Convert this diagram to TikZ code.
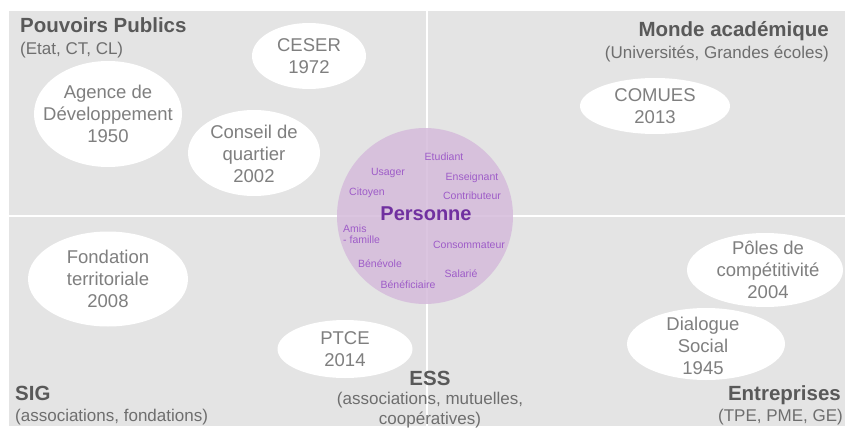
\documentclass[tikz,border=0pt]{standalone}
\usepackage{fontspec}
\setmainfont{Liberation Sans}
\usetikzlibrary{shapes.geometric}
\definecolor{bg}{HTML}{E4E4E4}
\definecolor{titlec}{HTML}{595959}
\definecolor{subc}{HTML}{6E6E6E}
\definecolor{bubc}{HTML}{7F7F7F}
\definecolor{circc}{HTML}{D5BCDB}
\definecolor{persc}{HTML}{7030A0}
\definecolor{wordc}{HTML}{9E5CC8}
\tikzset{
  blob/.style={ellipse, fill=white, inner sep=0pt},
  bubtxt/.style={inner sep=0pt, align=center, text=bubc,
    font=\fontsize{18.5}{22}\selectfont},
  ttl/.style={inner sep=0pt, text=titlec, font=\fontsize{20.5}{24}\selectfont\bfseries},
  sub/.style={inner sep=0pt, text=subc, align=center, font=\fontsize{17}{20}\selectfont},
  word/.style={inner sep=0pt, text=wordc, font=\fontsize{10.5}{10.5}\selectfont},
  divider/.style={white, line width=1.5pt}
}
\begin{document}
\begin{tikzpicture}[x=1pt,y=-1pt]
\useasboundingbox (0,0) rectangle (846,428);
\fill[white] (0,0) rectangle (846,428);
\fill[bg] (9,11) rectangle (845,426);
\coordinate (vt) at (427,11);
\coordinate (vb) at (427,426);
\coordinate (hl) at (9,216);
\coordinate (hr) at (845,216);
\draw[divider] (vt) -- (vb);
\draw[divider] (hl) -- (hr);

% central circle
\node[circle, minimum size=176pt, inner sep=0pt, fill=circc, fill opacity=0.85] (pers) at (425,216) {};
\node[inner sep=0pt, text=persc, font=\fontsize{20}{22}\selectfont\bfseries] (personne) at (426,214) {Personne};
\node[word] (w1) at (444,157) {Etudiant};
\node[word] (w2) at (388,173) {Usager};
\node[word] (w3) at (472,178) {Enseignant};
\node[word] (w4) at (367,193) {Citoyen};
\node[word] (w5) at (472,196) {Contributeur};
\node[word, align=left, anchor=west] (w6) at (343,234) {Amis\\- famille};
\node[word] (w7) at (469,245) {Consommateur};
\node[word] (w8) at (380,264) {Bénévole};
\node[word] (w9) at (461,274) {Salarié};
\node[word] (w10) at (408,285) {Bénéficiaire};

% bubbles
\node[blob, minimum width=114pt, minimum height=66pt] (ceser) at (309,56) {};
\node[bubtxt] (ceserT) at (ceser) {CESER\\1972};
\node[blob, minimum width=148pt, minimum height=106pt] (agence) at (108,114) {};
\node[bubtxt] (agenceT) at (agence) {Agence de\\Développement\\1950};
\node[blob, minimum width=132pt, minimum height=86pt] (conseil) at (254,153) {};
\node[bubtxt] (conseilT) at (254,154) {Conseil de\\quartier\\2002};
\node[blob, minimum width=150pt, minimum height=56pt] (comues) at (655,106) {};
\node[bubtxt] (comuesT) at (comues) {COMUES\\2013};
\node[blob, minimum width=160pt, minimum height=95pt] (fondation) at (108,279) {};
\node[bubtxt] (fondationT) at (fondation) {Fondation\\territoriale\\2008};
\node[blob, minimum width=135pt, minimum height=58pt] (ptce) at (345,349) {};
\node[bubtxt] (ptceT) at (ptce) {PTCE\\2014};
\node[blob, minimum width=156pt, minimum height=74pt] (poles) at (765,270) {};
\node[bubtxt] (polesT) at (768,270) {Pôles de\\compétitivité\\2004};
\node[blob, minimum width=158pt, minimum height=72pt] (dialogue) at (706,344) {};
\node[bubtxt] (dialogueT) at (703,346) {Dialogue\\Social\\1945};

% corner titles
\node[ttl, anchor=west] (pp) at (20,25) {Pouvoirs Publics};
\node[sub, anchor=west] (pps) at (20,50) {(Etat, CT, CL)};
\node[ttl, anchor=east] (ma) at (829,31) {Monde académique};
\node[sub, anchor=east] (mas) at (829,54) {(Universités, Grandes écoles)};
\node[ttl, anchor=west] (sig) at (15,393) {SIG};
\node[sub, anchor=west] (sigs) at (15,417) {(associations, fondations)};
\node[ttl] (ess) at (430,378) {ESS};
\node[sub] (esss) at (430,410) {(associations, mutuelles,\\coopératives)};
\node[ttl, anchor=east] (ent) at (841,395) {Entreprises};
\node[sub, anchor=east] (ents) at (843,417) {(TPE, PME, GE)};
\end{tikzpicture}
\end{document}
